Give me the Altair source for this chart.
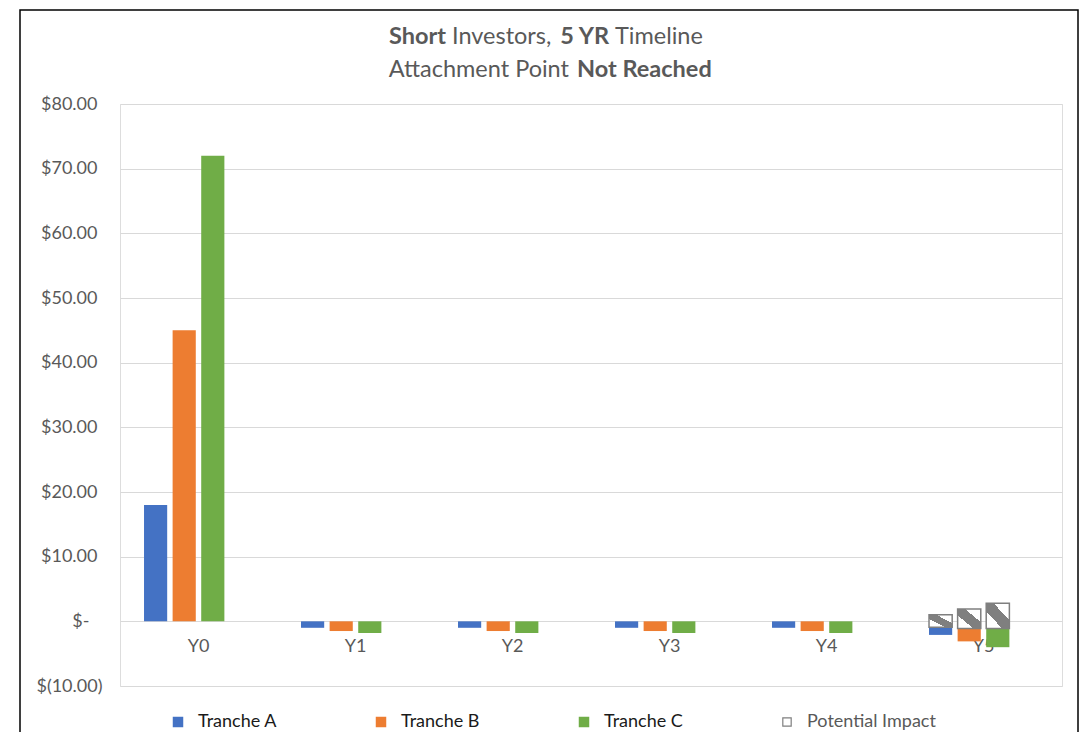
import altair as alt
import pandas as pd

years = ["Y0", "Y1", "Y2", "Y3", "Y4", "Y5"]
tranches = ["Tranche A", "Tranche B", "Tranche C"]
tranche_a = [18.0, -1.0, -1.0, -1.0, -1.0, -2.1]
tranche_b = [45.0, -1.5, -1.5, -1.5, -1.5, -3.1]
tranche_c = [72.0, -1.8, -1.8, -1.8, -1.8, -4.0]
impact_year = "Y5"
impact_low = [-0.9, -1.1, -1.1]
impact_high = [1.0, 1.9, 2.8]
legend_items = ["Tranche A", "Tranche B", "Tranche C", "Potential Impact"]
colors = ["#4472C4", "#ED7D31", "#70AD47", "white"]

rows = []
for t, vals in zip(tranches, [tranche_a, tranche_b, tranche_c]):
    for y, v in zip(years, vals):
        rows.append({"year": y, "tranche": t, "value": v})
bars_df = pd.DataFrame(rows)
impact_df = pd.DataFrame({"year": [impact_year] * 3, "tranche": tranches,
                          "low": impact_low, "high": impact_high})

FONT = "Lato"
GRAY = "#595959"

x_enc = alt.X("year:N", sort=years, title=None,
              scale=alt.Scale(domain=years, paddingInner=0.306, paddingOuter=0.153),
              axis=alt.Axis(orient="bottom", offset=-64.7, domain=False, ticks=False,
                            labelAngle=0, labelFontSize=18, labelColor=GRAY,
                            labelFont=FONT, labelPadding=16, grid=False))
# four slots per year: the fourth (Potential Impact) stays empty, as in the source
xoff_enc = alt.XOffset("tranche:N", sort=legend_items,
                       scale=alt.Scale(domain=legend_items, paddingInner=0.19, paddingOuter=0))
y_scale = alt.Scale(domain=[-10, 80], nice=False, zero=False)
y_axis = alt.Axis(values=list(range(-10, 81, 10)), domain=False, ticks=False,
                  gridColor="#D9D9D9", gridWidth=1, labelFontSize=18, labelColor=GRAY,
                  labelFont=FONT,
                  labelPadding={"condition": [{"test": "datum.value == 0", "value": 31},
                                              {"test": "datum.value < 0", "value": 18}],
                                "value": 23},
                  labelExpr="datum.value == 0 ? '$-' : (datum.value < 0 ? '$(' + format(-datum.value, '.2f') + ')' : '$' + format(datum.value, '.2f'))")

color_enc = alt.Color("tranche:N",
                      scale=alt.Scale(domain=legend_items, range=colors),
                      legend=alt.Legend(
                          title=None, orient="none", legendX=49, legendY=609,
                          direction="horizontal", columns=4, gridAlign="all",
                          columnPadding=45, symbolType="square",
                          symbolSize=alt.ExprRef("datum.label === 'Potential Impact' ? 70 : 110"),
                          symbolStrokeColor=alt.ExprRef("datum.label === 'Potential Impact' ? '#7f7f7f' : 'transparent'"),
                          symbolStrokeWidth=1.2,
                          labelColor=alt.ExprRef("datum.label === 'Potential Impact' ? '#595959' : '#1a1a1a'"),
                          labelFontSize=18, labelFont=FONT, labelOffset=11,
                          padding=0))

bars = alt.Chart(bars_df).mark_bar().encode(
    x=x_enc,
    xOffset=xoff_enc,
    y=alt.Y("value:Q", scale=y_scale, axis=y_axis, title=None),
    color=color_enc,
)

pattern = alt.LinearGradient(
    gradient="linear", x1=0, y1=1, x2=1, y2=0,
    stops=[alt.GradientStop(color="white", offset=0),
           alt.GradientStop(color="white", offset=0.34),
           alt.GradientStop(color="#7F7F7F", offset=0.34),
           alt.GradientStop(color="#7F7F7F", offset=0.66),
           alt.GradientStop(color="white", offset=0.66),
           alt.GradientStop(color="white", offset=1)])

impact = alt.Chart(impact_df).mark_bar(fill=pattern, stroke="#7F7F7F", strokeWidth=1.5).encode(
    x=alt.X("year:N", sort=years),
    xOffset=alt.XOffset("tranche:N", sort=legend_items),
    y=alt.Y("low:Q"),
    y2="high:Q",
)

one = pd.DataFrame({"k": [0]})
border = alt.Chart(one).mark_rect(fill=None, stroke="black", strokeWidth=1.5, clip=False).encode(
    x=alt.value(-100), x2=alt.value(958), y=alt.value(-94), y2=alt.value(700))

title_parts = [
    ("Short", "bold", "right", 326, -67),
    ("Investors,", "normal", "left", 332, -67),
    ("5 YR", "bold", "right", 489, -67),
    ("Timeline", "normal", "left", 495, -67),
    ("Attachment Point", "normal", "right", 449, -34),
    ("Not Reached", "bold", "left", 457, -34),
]
title_layers = []
for txt, weight, al, px, py in title_parts:
    title_layers.append(
        alt.Chart(one).mark_text(text=txt, fontWeight=weight, fontSize=23.5, font=FONT,
                                 color=GRAY, align=al, baseline="middle").encode(
            x=alt.value(px), y=alt.value(py)))

chart = alt.layer(bars, impact, border, *title_layers).properties(
    width=942, height=582,
    autosize=alt.AutoSizeParams(type="none"),
    padding={"left": 112, "top": 96, "right": 18, "bottom": 46},
).configure_view(stroke=None).configure(background="white")

chart.save("out.html", embed_options={"renderer": "svg", "actions": False})
